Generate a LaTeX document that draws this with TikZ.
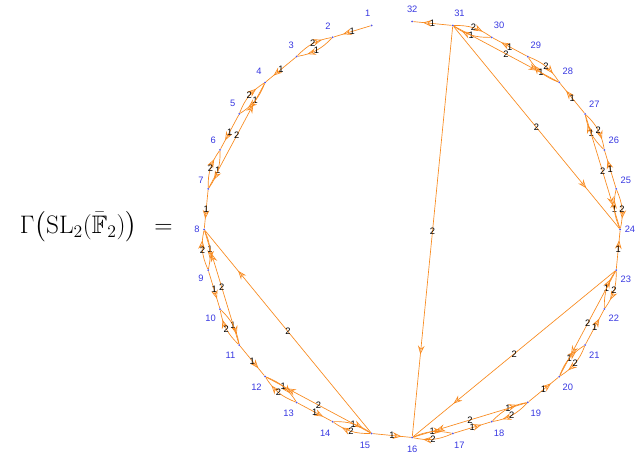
\documentclass[tikz,border=0pt]{standalone}
\usepackage{fix-cm}
\usepackage{amsmath, amssymb}
\usepackage{fontspec}
\setsansfont{Liberation Sans}
\usetikzlibrary{arrows.meta, decorations.markings}
\definecolor{edgeorange}{RGB}{248,138,30}
\definecolor{vertblue}{RGB}{55,55,225}
\tikzset{
  vert/.style={circle, fill=vertblue!85!white, inner sep=0pt, minimum size=1.5pt},
  vlabel/.style={font=\sffamily\fontsize{7}{8}\selectfont, text=vertblue, inner xsep=0.3pt, inner ysep=3.3pt},
  mult/.style={font=\sffamily\fontsize{7}{8}\selectfont, inner sep=0.5pt},
  arrowline/.style={draw=edgeorange, line width=0.5pt, postaction={decorate},
    decoration={markings, mark=at position #1 with {\arrow{Stealth[open, length=6.5pt, width=5pt, inset=2.3pt, color=edgeorange]}}}},
  arrowline/.default=0.75
}

\begin{document}
\begin{tikzpicture}[x=0.75pt, y=0.75pt]
  \useasboundingbox (0,0) rectangle (644,459);
  \node[anchor=east, inner sep=0pt, font=\fontsize{19}{23}\selectfont] (lhs) at (173,232) {$\Gamma\bigl(\mathrm{SL}_2(\bar{\mathbb{F}}_2)\bigr)\kern0.4em=$};
  \begin{scope}[shift={(412.2,229.5)}]
    \foreach \k [evaluate=\k as \ang using {mod(90+11.25*\k,360)}] in {1,...,32}
      \node[vert, label={[vlabel, label distance=2pt]\ang:\k}] (v\k) at (\ang:208) {};
  \end{scope}
  \foreach \v [evaluate=\v as \w using int(\v+1)] in {1,3,...,31}
    \draw[arrowline] (v\v) -- node[mult] {1} (v\w);
  \foreach \v [evaluate=\v as \u using int(\v-1)] in {3,5,...,31} {
    \draw[arrowline] (v\v) to[bend left=18] node[mult] {2} (v\u);
    \draw[arrowline] (v\u) to[bend left=18] node[mult] {1} (v\v);
  }
  \foreach \s/\t in {7/4, 11/8, 15/12, 19/16, 23/20, 27/24, 31/28, 15/8, 23/16, 31/24, 31/16}
    \draw[arrowline=0.8] (v\s) -- node[mult] {2} (v\t);
\end{tikzpicture}
\end{document}
